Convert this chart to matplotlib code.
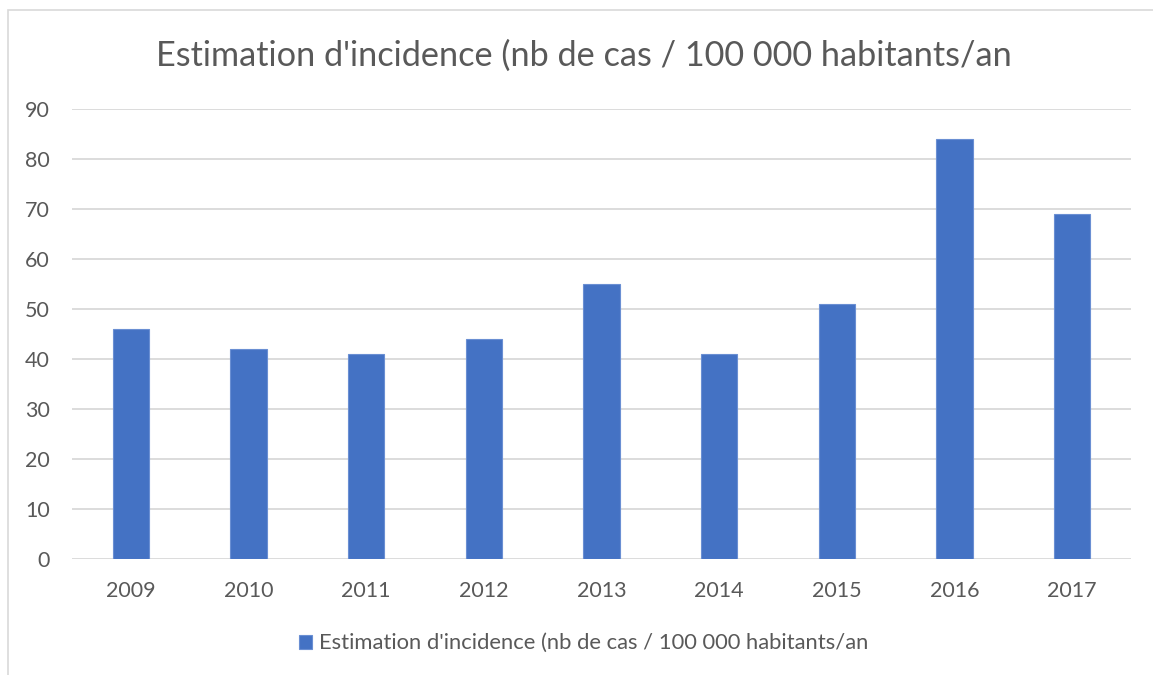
import matplotlib.pyplot as plt
from matplotlib.patches import Rectangle

plt.rcParams['font.family'] = ['Lato', 'DejaVu Sans']

# data
years = ["2009", "2010", "2011", "2012", "2013", "2014", "2015", "2016", "2017"]
incidence = [46, 42, 41, 44, 55, 41, 51, 84, 69]
label = "Estimation d'incidence (nb de cas / 100 000 habitants/an"

TEXT = "#595959"
GRID = "#D9D9D9"
BLUE = "#4472C4"

fig = plt.figure(figsize=(11.53, 6.75), dpi=100)
ax = fig.add_axes([0.0624, 0.1719, 0.9186, 0.6666])

x = range(len(years))
ax.bar(x, incidence, width=0.31, color=BLUE, edgecolor="#6A8FD3", linewidth=0.8,
       label=label, zorder=3)

ax.set_xlim(-0.5, len(years) - 0.5)
ax.set_ylim(0, 90)
ax.set_yticks(range(0, 91, 10))
ax.set_xticks(list(x))
ax.set_xticklabels(years)
ax.grid(axis="y", color=GRID, linewidth=1.3, zorder=0)
for s in ax.spines.values():
    s.set_visible(False)
ax.tick_params(axis="both", length=0, labelsize=15.5, labelcolor=TEXT)
ax.tick_params(axis="y", pad=16)
ax.tick_params(axis="x", pad=16)

fig.text(0.506, 0.918, label, ha="center", va="center", fontsize=24.7, color=TEXT)

fig.legend(loc="center", bbox_to_anchor=(0.506, 0.047), frameon=False,
           fontsize=15.8, labelcolor=TEXT, handlelength=0.6, handleheight=0.6,
           handletextpad=0.3)

# chart frame (cut at right/bottom in the reference)
fig.patches.append(Rectangle((8 / 1153, -0.05), 1.1, 1 - 10 / 675 + 0.05,
                             transform=fig.transFigure, fill=False,
                             edgecolor=GRID, linewidth=1.2))

fig.savefig("out.png", dpi=100)
